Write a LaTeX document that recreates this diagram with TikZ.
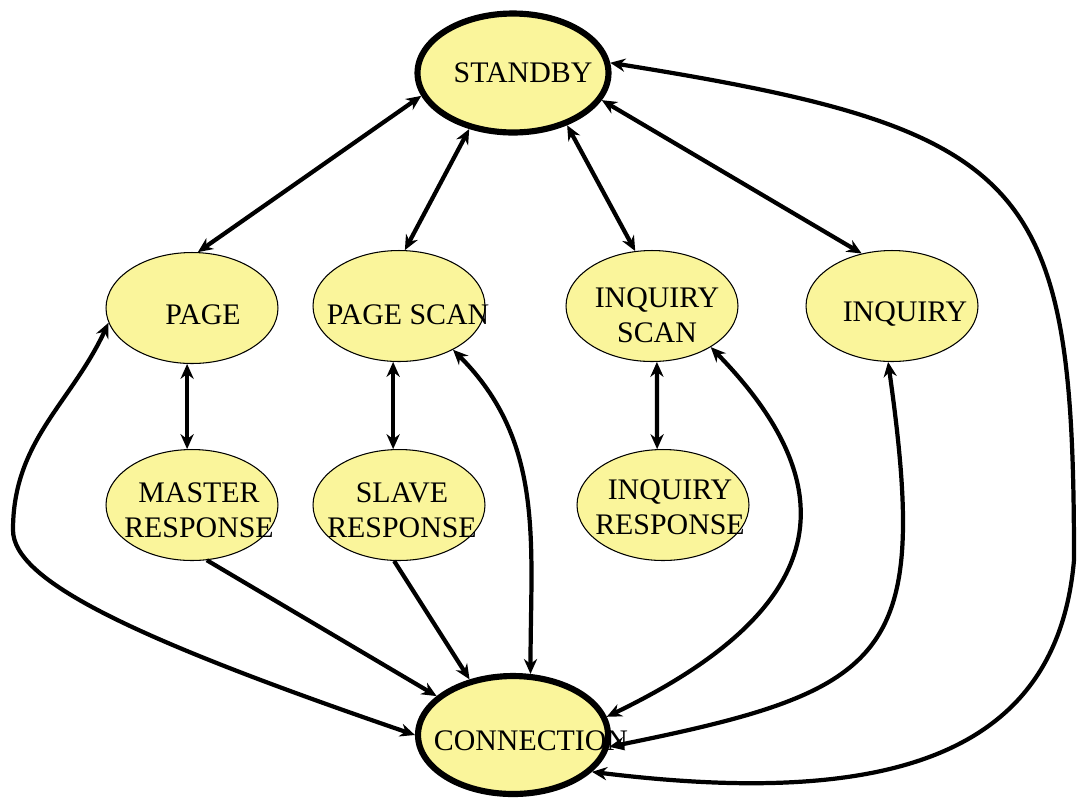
\documentclass[tikz,border=0pt]{standalone}
\usepackage{fontspec}
\setmainfont{Liberation Serif}
\usepackage{tikz}
\usetikzlibrary{arrows.meta}
\usetikzlibrary{shapes}
\usepackage{xcolor}
\definecolor{stateyellow}{RGB}{250,245,155}
\tikzset{
    state/.style={
        draw,
        ellipse,
        fill=stateyellow,
        minimum width=3.44cm,
        minimum height=2.22cm,
        inner sep=0pt,
        line width=0.6pt
    },
    mainstate/.style={
        state,
        minimum width=3.82cm,
        minimum height=2.38cm,
        line width=3.5pt
    },
    statetext/.style={
        align=center,
        inner sep=0pt,
        font=\fontsize{17}{20}\selectfont
    }
}

\begin{document}
\begin{tikzpicture}[x=0.02cm, y=0.02cm] % 1 unit = 1 pixel of the original
  % Define styles for connectors
  \tikzset{
    >={Stealth[length=8.5pt, width=7.5pt]},
    link/.style={<->, line width=2.4pt},
    oneway/.style={->, line width=2.4pt}
  }
  \useasboundingbox (0,0) rectangle (1078,-799);

  % States
  \node[mainstate] (standby) at (513,-73) {};
  \node[state] (page) at (192,-308) {};
  \node[state] (pagescan) at (399,-306) {};
  \node[state] (inqscan) at (652,-306) {};
  \node[state] (inquiry) at (892,-306) {};
  \node[state] (master) at (192,-505) {};
  \node[state] (slave) at (399,-505) {};
  \node[state] (inqresp) at (663,-505) {};
  \node[mainstate, minimum width=3.8cm, minimum height=2.36cm] (connection) at (513,-735) {};

  % Texts (a little off centre, as in the drawing)
  \node[statetext] (standbytext) at ([shift={(10,0)}]standby.center) {STANDBY};
  \node[statetext] (pagetext) at ([shift={(11,-7)}]page.center) {PAGE};
  \node[statetext] (pagescantext) at ([shift={(9,-9)}]pagescan.center) {PAGE SCAN};
  \node[statetext] (inqscantext) at ([shift={(5,-9)}]inqscan.center) {INQUIRY\\SCAN};
  \node[statetext] (inquirytext) at ([shift={(13,-8)}]inquiry.center) {INQUIRY};
  \node[statetext] (mastertext) at ([shift={(7,-5)}]master.center) {MASTER\\RESPONSE};
  \node[statetext] (slavetext) at ([shift={(3,-5)}]slave.center) {SLAVE\\RESPONSE};
  \node[statetext] (inqresptext) at ([shift={(7,-2)}]inqresp.center) {INQUIRY\\RESPONSE};
  \node[statetext] (connectiontext) at ([shift={(18,-6)}]connection.center) {CONNECTION};

  % Standby to the four states
  \draw[link] (standby.194) -- (page.84);
  \draw[link] (standby.232) -- (pagescan.84);
  \draw[link] (standby.316) -- (inqscan.107);
  \draw[link] (standby.343) -- (inquiry.120);

  % Response states
  \foreach \a/\b in {page.265/master.95, pagescan.264/slave.96, inqscan.275/inqresp.96} {
    \draw[link] (\a) -- (\b);
  }
  \draw[oneway] (master.285) -- (connection.153);
  \draw[oneway] (slave.265) -- (connection.128);

  % Curved connectors to connection
  \coordinate (leftbend) at (13,-530);
  \coordinate (rightbend) at (1074,-560);
  \draw[link] (page.190) to[out=245,in=90] (leftbend)
    .. controls (13,-580) and (129,-637) .. (connection.180);
  \draw[link] (pagescan.321) to[out=-45,in=90] (connection.74);
  \draw[link] (inqscan.325) .. controls (856,-496) and (822,-613) .. (connection.11);
  \draw[link] (inquiry.266) .. controls (930,-659) and (891,-690) .. (connection.353);
  \draw[link] (standby.6) .. controls (1031,-130) and (1074,-179) .. (rightbend)
    .. controls (1058,-744) and (909,-811) .. (connection.335);
\end{tikzpicture}
\end{document}
